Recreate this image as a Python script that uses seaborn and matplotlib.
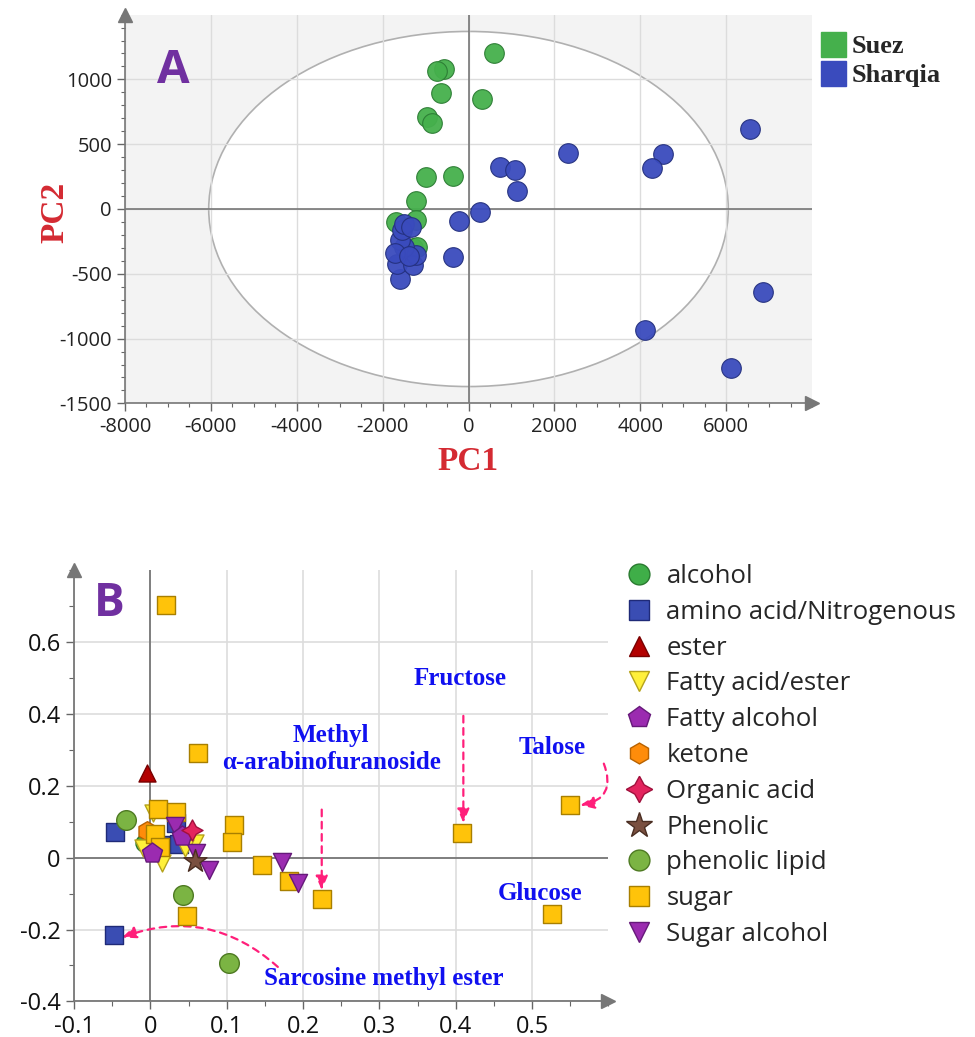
import numpy as np
import pandas as pd
import matplotlib
matplotlib.use("Agg")
import matplotlib.pyplot as plt
import seaborn as sns
from matplotlib.patches import Ellipse
from matplotlib.lines import Line2D

# ---------------- DATA ----------------
# Panel A: PCA scores
suez_pc1 = [587, -559, -729, -643, 319, -964, -845, -985, -354, -1232, -1232, -1285, -1188, -1684]
suez_pc2 = [1206, 1080, 1067, 895, 851, 712, 666, 249, 255, 64, -85, -301, -293, -98]
sharqia_pc1 = [6545, 2308, 4523, 4276, 736, 1090, 1132, 266, -226, -354, 6854, 4115, 6116,
               -1584, -1658, -1285, -1232, -1497, -1584, -1551, -1497, -1330, -1712, -1380]
sharqia_pc2 = [615, 430, 422, 314, 322, 301, 139, -23, -90, -368, -638, -934, -1229,
               -543, -427, -432, -358, -291, -239, -162, -116, -139, -340, -366]
groups_A = ["Suez", "Sharqia"]
xticks_A = [-8000, -6000, -4000, -2000, 0, 2000, 4000, 6000]
yticks_A = [-1500, -1000, -500, 0, 500, 1000]

# Panel B: loadings by class
categories_B = ["alcohol", "amino acid/Nitrogenous", "ester", "Fatty acid/ester", "Fatty alcohol",
                "ketone", "Organic acid", "Phenolic", "phenolic lipid", "sugar", "Sugar alcohol"]
alcohol_x, alcohol_y = [-0.008], [0.041]
amino_x, amino_y = [-0.046, -0.048, 0.034, 0.037, 0.012], [0.073, -0.215, 0.096, 0.038, 0.035]
ester_x, ester_y = [-0.005], [0.237]
fattyacid_x = [0.003, 0.058, 0.045, 0.015, -0.009]
fattyacid_y = [0.125, 0.041, 0.027, -0.015, 0.027]
fattyalc_x, fattyalc_y = [0.042, 0.002], [0.060, 0.013]
ketone_x, ketone_y = [-0.005], [0.074]
organic_x, organic_y = [0.055], [0.076]
phenolic_x, phenolic_y = [0.059], [-0.010]
phenlipid_x, phenlipid_y = [-0.032, 0.043, 0.103], [0.104, -0.103, -0.292]
sugar_x = [0.021, 0.062, 0.010, 0.033, 0.006, 0.012, 0.110, 0.107, 0.146, 0.181, 0.225, 0.048, 0.408, 0.550, 0.526]
sugar_y = [0.705, 0.292, 0.137, 0.127, 0.066, 0.030, 0.090, 0.044, -0.021, -0.064, -0.116, -0.162, 0.069, 0.146, -0.158]
sugaralc_x = [0.032, 0.060, 0.077, 0.173, 0.194]
sugaralc_y = [0.088, 0.013, -0.034, -0.012, -0.069]
xticks_B = [-0.1, 0, 0.1, 0.2, 0.3, 0.4, 0.5]
xticklabels_B = ["-0.1", "0", "0.1", "0.2", "0.3", "0.4", "0.5"]
yticks_B = [-0.4, -0.2, 0, 0.2, 0.4, 0.6]
yticklabels_B = ["-0.4", "-0.2", "0", "0.2", "0.4", "0.6"]

# ---------------- STYLE ----------------
sns.set_theme(style="white")
plt.rcParams["font.family"] = ["Open Sans", "DejaVu Sans"]
plt.rcParams["axes.unicode_minus"] = False

fig = plt.figure(figsize=(9.75, 10.37), dpi=100)

W, H = 975, 1037
def fr(l, t, r, b):
    return [l / W, 1 - b / H, (r - l) / W, (b - t) / H]

# ================= PANEL A =================
axA = fig.add_axes(fr(125, 14.6, 812, 403.4))
axA.set_facecolor("#f3f3f3")
axA.set_xlim(-8000, 8000)
axA.set_ylim(-1500, 1500)
axA.add_patch(Ellipse((0, 0), 12100, 2740, facecolor="white", edgecolor="#b0b0b0", lw=1.2, zorder=0.2))
axA.set_axisbelow(True)
axA.grid(True, color="#dcdcdc", lw=1.0)
axA.axhline(0, color="#777777", lw=1.2, zorder=0.6)
axA.axvline(0, color="#777777", lw=1.2, zorder=0.6)

dfA = pd.DataFrame({
    "PC1": suez_pc1 + sharqia_pc1,
    "PC2": suez_pc2 + sharqia_pc2,
    "Region": ["Suez"] * len(suez_pc1) + ["Sharqia"] * len(sharqia_pc1),
})
colA = {"Suez": "#45b04c", "Sharqia": "#3a4bbd"}
edgeA = {"Suez": "#2c7c34", "Sharqia": "#24307e"}
for g in groups_A:
    sns.scatterplot(data=dfA[dfA.Region == g], x="PC1", y="PC2", color=colA[g], edgecolor=edgeA[g],
                    linewidth=0.8, s=200, alpha=0.95, ax=axA, legend=False, zorder=3)

axA.set_xticks(xticks_A)
axA.set_yticks(yticks_A)
axA.set_xticks(np.arange(-8000, 8001, 500), minor=True)
axA.set_yticks(np.arange(-1500, 1501, 100), minor=True)
axA.tick_params(axis="both", which="major", direction="out", length=6, width=1, color="#666666",
                labelsize=14.5, labelcolor="#222222", bottom=True, left=True)
axA.tick_params(axis="both", which="minor", direction="out", length=3, width=0.8, color="#666666",
                bottom=True, left=True)
for s in ["top", "right"]:
    axA.spines[s].set_visible(False)
for s in ["left", "bottom"]:
    axA.spines[s].set_color("#777777")
    axA.spines[s].set_linewidth(1.2)
axA.plot(1, 0, ">", color="#777777", markersize=10, transform=axA.transAxes, clip_on=False)
axA.plot(0, 1, "^", color="#777777", markersize=10, transform=axA.transAxes, clip_on=False)

serif_bold = dict(family=["Liberation Serif", "DejaVu Serif"], weight="bold")
axA.set_xlabel("PC1", color="#d42a32", fontsize=24, **serif_bold)
axA.set_ylabel("PC2", color="#d42a32", fontsize=24, **serif_bold)
axA.xaxis.set_label_coords(0.5, -(462 - 403.4) / (403.4 - 14.6), transform=axA.transAxes)
axA.yaxis.set_label_coords((55 - 125) / (812 - 125), (403.4 - 212) / (403.4 - 14.6), transform=axA.transAxes)
axA.xaxis.label.set_va("center")
axA.yaxis.label.set_va("center")
axA.text(-6870, 1072, "A", color="#7030a0", fontsize=34, fontweight="bold", ha="center", va="center",
         family=["Open Sans", "DejaVu Sans"])

handlesA = [Line2D([], [], marker="s", linestyle="none", markersize=18, markerfacecolor=colA[g],
                   markeredgecolor=colA[g]) for g in groups_A]
axA.legend(handlesA, groups_A, loc="upper left", bbox_to_anchor=(820 / W, 1 - 35 / H),
           bbox_transform=fig.transFigure, frameon=False, handlelength=1.0, handletextpad=0.2,
           borderpad=0, borderaxespad=0, labelspacing=0.2,
           prop=dict(family=["Liberation Serif", "DejaVu Serif"], weight="bold", size=19))

# ================= PANEL B =================
axB = fig.add_axes(fr(74, 570.4, 608.4, 1001.4))
axB.set_facecolor("white")
axB.set_xlim(-0.1, 0.6)
axB.set_ylim(-0.4, 0.8)
axB.set_axisbelow(True)
axB.set_xticks(xticks_B)
axB.set_xticklabels(xticklabels_B)
axB.set_yticks(yticks_B)
axB.set_yticklabels(yticklabels_B)
axB.set_xticks(np.arange(-0.1, 0.601, 0.05), minor=True)
axB.set_yticks(np.arange(-0.4, 0.801, 0.1), minor=True)
axB.grid(True, which="major", color="#dddddd", lw=1.2)
axB.axhline(0, color="#777777", lw=1.3, zorder=0.6)
axB.axvline(0, color="#777777", lw=1.3, zorder=0.6)
axB.tick_params(axis="both", which="major", direction="out", length=6, width=1, color="#666666",
                labelsize=17, labelcolor="#111111", bottom=True, left=True)
axB.tick_params(axis="both", which="minor", direction="out", length=3.5, width=0.8, color="#666666",
                bottom=True, left=True)
for s in ["top", "right"]:
    axB.spines[s].set_visible(False)
for s in ["left", "bottom"]:
    axB.spines[s].set_color("#777777")
    axB.spines[s].set_linewidth(1.3)
axB.plot(1, 0, ">", color="#777777", markersize=10, transform=axB.transAxes, clip_on=False)
axB.plot(0, 1, "^", color="#777777", markersize=10, transform=axB.transAxes, clip_on=False)

styleB = {
    "alcohol": ("o", "#3fae48", "#2a7a30", 150),
    "amino acid/Nitrogenous": ("s", "#3a4db3", "#1f2a78", 150),
    "ester": ("^", "#b30000", "#780000", 150),
    "Fatty acid/ester": ("v", "#fff03a", "#b5a21a", 150),
    "Fatty alcohol": ("p", "#9b2bb0", "#66197a", 230),
    "ketone": ("h", "#ff8c0a", "#b86200", 200),
    "Organic acid": ((4, 1, 0), "#e3245e", "#a0103c", 230),
    "Phenolic": ("*", "#7a5040", "#4a2e22", 300),
    "phenolic lipid": ("o", "#7bb443", "#4e7a22", 200),
    "sugar": ("s", "#ffc30a", "#a87f00", 150),
    "Sugar alcohol": ("v", "#9b2bb0", "#66197a", 170),
}
dataB = {
    "alcohol": (alcohol_x, alcohol_y),
    "amino acid/Nitrogenous": (amino_x, amino_y),
    "ester": (ester_x, ester_y),
    "Fatty acid/ester": (fattyacid_x, fattyacid_y),
    "Fatty alcohol": (fattyalc_x, fattyalc_y),
    "ketone": (ketone_x, ketone_y),
    "Organic acid": (organic_x, organic_y),
    "Phenolic": (phenolic_x, phenolic_y),
    "phenolic lipid": (phenlipid_x, phenlipid_y),
    "sugar": (sugar_x, sugar_y),
    "Sugar alcohol": (sugaralc_x, sugaralc_y),
}
rows = []
for c in categories_B:
    xs, ys = dataB[c]
    for xv, yv in zip(xs, ys):
        rows.append((c, xv, yv))
dfB = pd.DataFrame(rows, columns=["Class", "x", "y"])

draw_order = ["alcohol", "amino acid/Nitrogenous", "ketone", "Fatty acid/ester", "sugar",
              "Sugar alcohol", "Fatty alcohol", "Organic acid", "Phenolic", "phenolic lipid", "ester"]
for i, c in enumerate(draw_order):
    m, fc, ec, sz = styleB[c]
    sns.scatterplot(data=dfB[dfB.Class == c], x="x", y="y", marker=m, color=fc, edgecolor=ec,
                    linewidth=1.0, s=sz, ax=axB, legend=False, zorder=3 + i * 0.1)
axB.set_xlabel("")
axB.set_ylabel("")

axB.text(-0.054, 0.709, "B", color="#7030a0", fontsize=33, fontweight="bold", ha="center", va="center",
         family=["Open Sans", "DejaVu Sans"])

ann_kw = dict(color="#1010f0", fontsize=18, ha="center", va="center",
              family=["Liberation Serif", "DejaVu Serif"], fontweight="bold")
axB.text(0.406, 0.50, "Fructose", **ann_kw)
axB.text(0.237, 0.341, "Methyl", **ann_kw)
axB.text(0.237, 0.265, "\u03b1-arabinofuranoside", **ann_kw)
axB.text(0.526, 0.307, "Talose", **ann_kw)
axB.text(0.511, -0.099, "Glucose", **ann_kw)
axB.text(0.306, -0.337, "Sarcosine methyl ester", **ann_kw)

arrow_col = "#ff1f7a"
def dashed_arrow(start, end, rad=0.0):
    axB.annotate("", xy=end, xytext=start,
                 arrowprops=dict(arrowstyle="-|>,head_length=0.7,head_width=0.3", color=arrow_col,
                                 lw=1.6, linestyle=(0, (3, 2.5)),
                                 connectionstyle=f"arc3,rad={rad}", shrinkA=0, shrinkB=0),
                 annotation_clip=False)

dashed_arrow((0.41, 0.395), (0.41, 0.097))
dashed_arrow((0.2245, 0.134), (0.2245, -0.09))
dashed_arrow((0.594, 0.262), (0.563, 0.146), rad=-0.6)
dashed_arrow((0.167, -0.304), (-0.037, -0.222), rad=0.3)

handlesB = []
for c in categories_B:
    m, fc, ec, sz = styleB[c]
    ms = 15
    if m == "*" or m == (4, 1, 0):
        ms = 19
    if m == "p":
        ms = 16
    handlesB.append(Line2D([], [], marker=m, linestyle="none", markersize=ms, markerfacecolor=fc,
                           markeredgecolor=ec, markeredgewidth=1.0))
fig.legend(handlesB, categories_B, loc="upper left", bbox_to_anchor=(624 / W, 1 - 564 / H),
           frameon=False, handlelength=1.2, handletextpad=0.45, borderpad=0, borderaxespad=0,
           labelspacing=0.42, prop=dict(family=["Open Sans", "DejaVu Sans"], size=18.5))

fig.savefig("out.png", dpi=100)
